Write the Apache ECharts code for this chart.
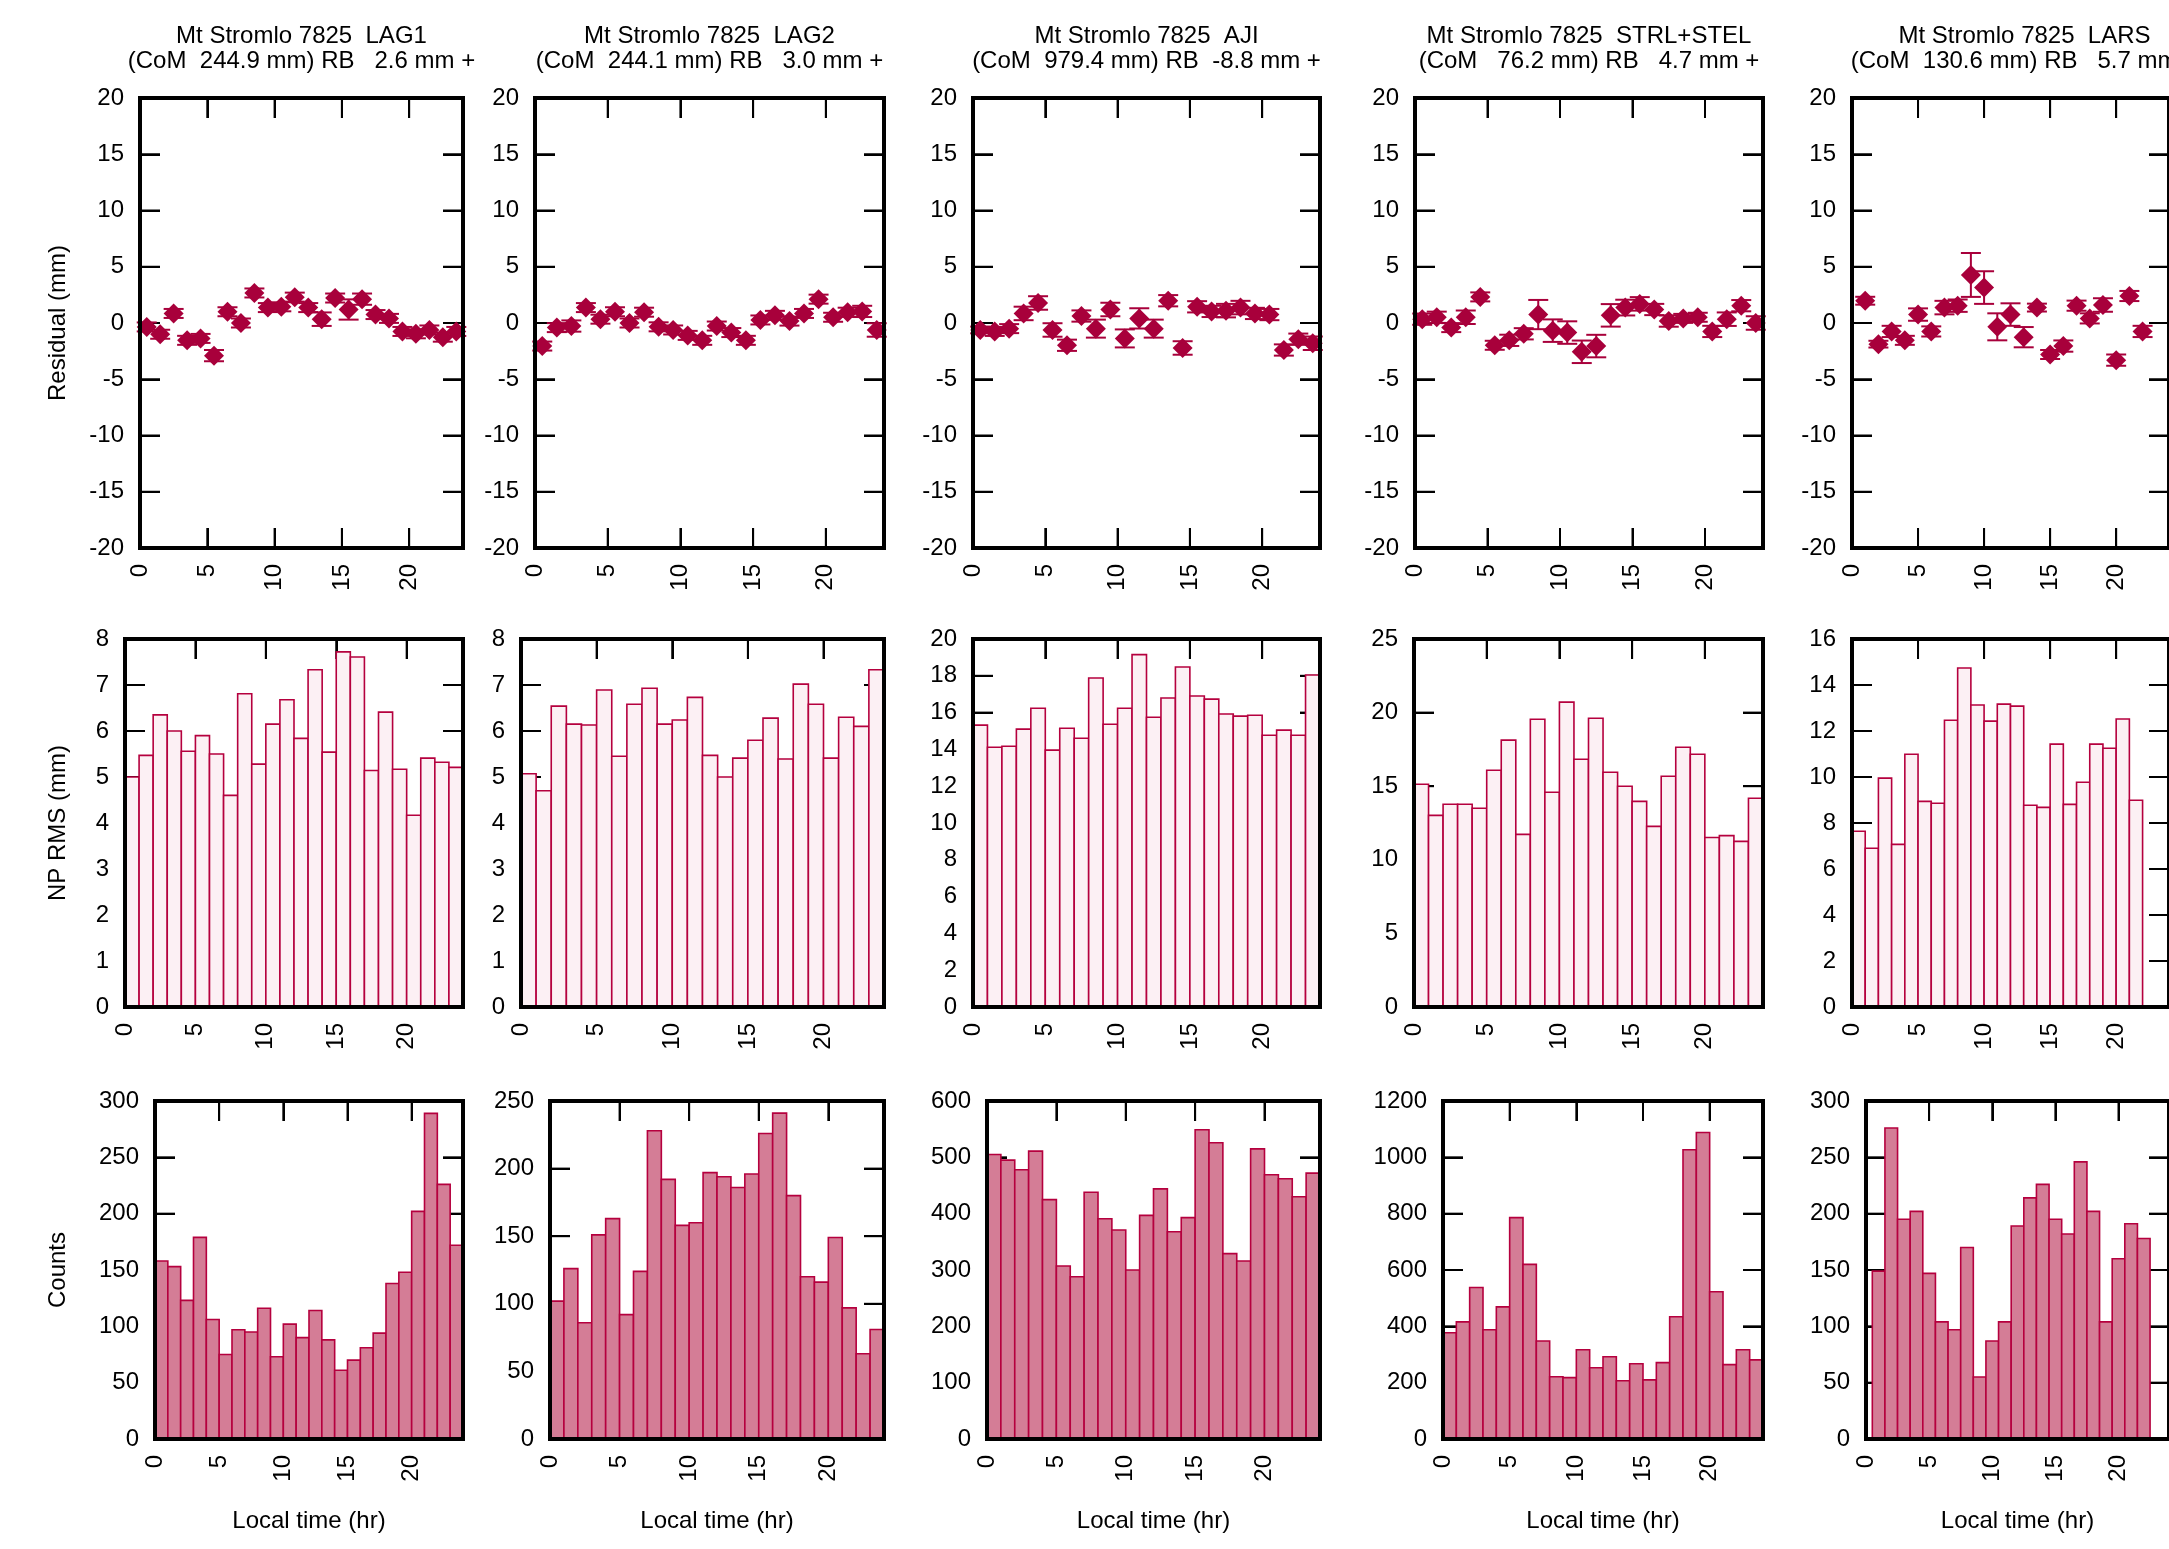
<!DOCTYPE html>
<html>
<head>
<meta charset="utf-8">
<script src="https://cdn.jsdelivr.net/npm/echarts@6/dist/echarts.min.js"></script>
<style>
  html, body { margin: 0; background: #fff; }
  #chart { width: 2169px; height: 1549px; }
</style>
</head>
<body>
<div id="chart"></div>
<script>
// station info shown in the panel titles
const stations = ['LAG1', 'LAG2', 'AJI', 'STRL+STEL', 'LARS'];
const comOffsets = ['244.9', '244.1', '979.4', '76.2', '130.6'];
const rangeBias = ['2.6', '3.0', '-8.8', '4.7', '5.7'];

// local time bins (hr)
const hourBins = [0.5, 1.5, 2.5, 3.5, 4.5, 5.5, 6.5, 7.5, 8.5, 9.5, 10.5, 11.5,
  12.5, 13.5, 14.5, 15.5, 16.5, 17.5, 18.5, 19.5, 20.5, 21.5, 22.5, 23.5];
const hourWhole = [1, 2, 3, 4, 5, 6, 7, 8, 9, 10, 11, 12, 13, 14, 15, 16, 17, 18, 19, 20, 21, 22];
const hourTicks = [5, 10, 15, 20];

// residuals (mm) and their error bars
const resLag1 = [-0.35, -1.0, 0.85, -1.54, -1.37, -2.9, 1.0, 0.0, 2.67, 1.37, 1.44, 2.3, 1.37, 0.34, 2.22, 1.2, 2.12, 0.75, 0.41, -0.75, -0.96, -0.62, -1.26, -0.75];
const errLag1 = [0.4, 0.4, 0.4, 0.4, 0.4, 0.5, 0.4, 0.4, 0.4, 0.4, 0.4, 0.4, 0.4, 0.6, 0.4, 0.9, 0.5, 0.4, 0.4, 0.4, 0.4, 0.4, 0.4, 0.4];
const resLag2 = [-2.05, -0.41, -0.27, 1.37, 0.34, 1.0, 0.0, 0.96, -0.34, -0.62, -1.1, -1.54, -0.27, -0.85, -1.54, 0.27, 0.68, 0.17, 0.85, 2.12, 0.51, 0.96, 1.03, -0.62];
const errLag2 = [0.4, 0.4, 0.5, 0.4, 0.4, 0.4, 0.4, 0.4, 0.4, 0.4, 0.4, 0.4, 0.4, 0.4, 0.4, 0.4, 0.4, 0.4, 0.4, 0.4, 0.4, 0.4, 0.5, 0.6];
const resAji = [-0.62, -0.75, -0.5, 0.85, 1.78, -0.62, -1.98, 0.62, -0.5, 1.2, -1.37, 0.41, -0.5, 1.98, -2.22, 1.44, 1.03, 1.1, 1.37, 0.85, 0.75, -2.4, -1.44, -1.8];
const errAji = [0.3, 0.4, 0.4, 0.6, 0.6, 0.6, 0.5, 0.5, 0.8, 0.6, 0.8, 0.9, 0.8, 0.5, 0.6, 0.5, 0.5, 0.6, 0.6, 0.5, 0.5, 0.5, 0.5, 0.6];
const resStrl = [0.34, 0.51, -0.41, 0.51, 2.32, -1.98, -1.54, -0.96, 0.75, -0.68, -0.85, -2.56, -2.05, 0.68, 1.37, 1.7, 1.2, 0.17, 0.41, 0.51, -0.75, 0.34, 1.54, 0.0];
const errStrl = [0.5, 0.5, 0.4, 0.6, 0.4, 0.4, 0.5, 0.5, 1.3, 1.0, 1.0, 1.0, 1.0, 1.0, 0.7, 0.6, 0.5, 0.5, 0.4, 0.4, 0.5, 0.6, 0.5, 0.6];
const resLars = [1.98, -1.88, -0.75, -1.54, 0.75, -0.75, 1.37, 1.54, 4.27, 3.15, -0.34, 0.75, -1.26, 1.37, -2.8, -2.05, 1.54, 0.41, 1.6, -3.3, 2.4, -0.75];
const errLars = [0.35, 0.3, 0.5, 0.4, 0.55, 0.45, 0.6, 0.55, 1.95, 1.45, 1.2, 1.0, 0.9, 0.35, 0.4, 0.5, 0.45, 0.45, 0.6, 0.5, 0.45, 0.5];

// normal point RMS (mm)
const rmsLag1 = [5.0, 5.47, 6.35, 6.0, 5.56, 5.9, 5.5, 4.6, 6.81, 5.28, 6.15, 6.68, 5.84, 7.33, 5.54, 7.72, 7.61, 5.14, 6.41, 5.17, 4.17, 5.41, 5.32, 5.21];
const rmsLag2 = [5.07, 4.7, 6.54, 6.15, 6.13, 6.89, 5.45, 6.58, 6.93, 6.15, 6.24, 6.73, 5.47, 5.0, 5.41, 5.8, 6.28, 5.39, 7.02, 6.58, 5.41, 6.3, 6.1, 7.33];
const rmsAji = [15.32, 14.12, 14.17, 15.1, 16.24, 13.96, 15.15, 14.61, 17.88, 15.37, 16.24, 19.15, 15.75, 16.79, 18.48, 16.9, 16.73, 15.92, 15.81, 15.86, 14.77, 15.05, 14.77, 18.04];
const rmsStrl = [15.13, 13.02, 13.77, 13.77, 13.5, 16.08, 18.13, 11.73, 19.55, 14.59, 20.71, 16.83, 19.62, 15.95, 15.0, 13.97, 12.27, 15.68, 17.65, 17.17, 11.52, 11.64, 11.25, 14.18];
const rmsLars = [7.64, 6.9, 9.95, 7.07, 10.99, 8.94, 8.86, 12.47, 14.74, 13.13, 12.43, 13.17, 13.08, 8.77, 8.68, 11.43, 8.81, 9.77, 11.43, 11.25, 12.52, 8.99];

// normal point counts
const cntLag1 = [158, 153, 123, 179, 106, 75, 97, 95, 116, 73, 102, 90, 114, 88, 61, 70, 81, 94, 138, 148, 202, 289, 226, 172];
const cntLag2 = [102, 126, 86, 151, 163, 92, 124, 228, 192, 158, 160, 197, 194, 186, 196, 226, 241, 180, 120, 116, 149, 97, 63, 81];
const cntAji = [505, 495, 478, 511, 425, 307, 288, 438, 391, 371, 300, 397, 444, 368, 393, 549, 526, 329, 316, 515, 469, 462, 430, 472];
const cntStrl = [377, 416, 538, 388, 469, 786, 620, 348, 221, 218, 317, 253, 292, 207, 267, 210, 271, 434, 1027, 1088, 523, 264, 317, 281];
const cntLars = [149, 276, 195, 202, 147, 104, 97, 170, 55, 87, 104, 189, 214, 226, 195, 182, 246, 202, 104, 160, 191, 178];

// y axis ranges
const resRange = [-20, 20, 5];
const rmsMax = [8, 8, 20, 25, 16];
const rmsStep = [1, 1, 2, 5, 2];
const cntMax = [300, 250, 600, 1200, 300];
const cntStep = [50, 50, 100, 200, 50];

const font = 'Liberation Sans, Arial, sans-serif';
const markColor = '#a8003b';
const edgeColor = '#b5003e';
const lightFill = '#fcf0f4';
const midFill = '#d47d96';

// panel boxes (px)
const colRight = [463, 884, 1320, 1763, 2197];
const leftTop = [140, 535, 973, 1415, 1852];
const leftMid = [125, 521, 973, 1414, 1852];
const leftBot = [155, 550, 987, 1443, 1866];

const grids = [], xAxes = [], yAxes = [], series = [], titles = [];

// fresh option pieces for each axis
function tick() {
    return { show: true, inside: true, length: 20, lineStyle: { color: '#000', width: 2 } }
}
function line() {
    return { show: false, onZero: false }
}
function label(extra) {
    return Object.assign({ color: '#000', fontSize: 24, fontFamily: font, margin: 16, formatter: v => String(v) }, extra || {})
}
function nameStyle() {
    return { color: '#000', fontSize: 24, fontFamily: font }
}

const tickStyle = { stroke: '#000', lineWidth: 2 }

// inward x ticks on top and bottom of the frame: [hour, yMin, yMax]
function xTickItem(params, api) {
    const t = api.coord([api.value(0), api.value(2)])
    const b = api.coord([api.value(0), api.value(1)])
    return {
        type: 'group',
        children: [
            { type: 'line', shape: { x1: t[0], y1: t[1], x2: t[0], y2: t[1] + 20 }, style: tickStyle },
            { type: 'line', shape: { x1: b[0], y1: b[1], x2: b[0], y2: b[1] - 20 }, style: tickStyle }
        ]
    }
}

// inward y ticks on left and right of the frame: [0, value, 24]
function yTickItem(params, api) {
    const l = api.coord([api.value(0), api.value(1)])
    const r = api.coord([api.value(2), api.value(1)])
    return {
        type: 'group',
        children: [
            { type: 'line', shape: { x1: l[0], y1: l[1], x2: l[0] + 20, y2: l[1] }, style: tickStyle },
            { type: 'line', shape: { x1: r[0], y1: r[1], x2: r[0] - 20, y2: r[1] }, style: tickStyle }
        ]
    }
}

function addPanel(left, right, top, bottom, yMin, yMax, yStep, yName, yGap, xName) {
    const g = grids.length
    grids.push({
        left: left, top: top, width: right - left, height: bottom - top,
        show: true, z: 10, borderWidth: 4, borderColor: '#000', backgroundColor: 'transparent'
    })
    xAxes.push({
        type: 'value', gridIndex: g, position: 'bottom', min: 0, max: 24, interval: 5,
        axisLine: line(), axisTick: tick(), splitLine: { show: false },
        axisLabel: label({ rotate: 90, showMaxLabel: false }),
        name: xName || '', nameLocation: 'middle', nameGap: 70, nameTextStyle: nameStyle()
    })
    xAxes.push({
        type: 'value', gridIndex: g, position: 'top', min: 0, max: 24, interval: 5,
        axisLine: line(), axisTick: tick(), splitLine: { show: false }, axisLabel: { show: false }
    })
    yAxes.push({
        type: 'value', gridIndex: g, position: 'left', min: yMin, max: yMax, interval: yStep,
        axisLine: line(), axisTick: tick(), splitLine: { show: false }, axisLabel: label(),
        name: yName || '', nameLocation: 'middle', nameGap: yGap || 0, nameTextStyle: nameStyle()
    })
    yAxes.push({
        type: 'value', gridIndex: g, position: 'right', min: yMin, max: yMax, interval: yStep,
        axisLine: line(), axisTick: tick(), splitLine: { show: false }, axisLabel: { show: false }
    })
    const yTicks = []
    for (let v = yMin + yStep; v < yMax; v += yStep) yTicks.push(v)
    series.push({
        type: 'custom', xAxisIndex: 2 * g, yAxisIndex: 2 * g, renderItem: xTickItem, silent: true, z: 1,
        data: hourTicks.map(h => [h, yMin, yMax])
    })
    series.push({
        type: 'custom', xAxisIndex: 2 * g, yAxisIndex: 2 * g, renderItem: yTickItem, silent: true, z: 1,
        data: yTicks.map(v => [0, v, 24])
    })
    return g
}

// histogram bar one hour wide
function histItem(fill) {
    return function (params, api) {
        const x = api.value(0)
        const p0 = api.coord([x - 0.5, api.value(1)])
        const p1 = api.coord([x + 0.5, 0])
        return {
            type: 'rect',
            shape: { x: p0[0], y: p0[1], width: p1[0] - p0[0], height: p1[1] - p0[1] },
            style: { fill: fill, stroke: edgeColor, lineWidth: 1.6 }
        }
    }
}

// vertical error bar with caps
function errItem(params, api) {
    const x = api.value(0), y = api.value(1), e = api.value(2)
    const hi = api.coord([x, y + e])
    const lo = api.coord([x, y - e])
    const w = 10
    const st = { stroke: markColor, lineWidth: 2 }
    return {
        type: 'group',
        children: [
            { type: 'line', shape: { x1: hi[0], y1: hi[1], x2: lo[0], y2: lo[1] }, style: st },
            { type: 'line', shape: { x1: hi[0] - w, y1: hi[1], x2: hi[0] + w, y2: hi[1] }, style: st },
            { type: 'line', shape: { x1: lo[0] - w, y1: lo[1], x2: lo[0] + w, y2: lo[1] }, style: st }
        ]
    }
}

const resList = [resLag1, resLag2, resAji, resStrl, resLars]
const errList = [errLag1, errLag2, errAji, errStrl, errLars]
const rmsList = [rmsLag1, rmsLag2, rmsAji, rmsStrl, rmsLars]
const cntList = [cntLag1, cntLag2, cntAji, cntStrl, cntLars]
const resHours = [hourBins, hourBins, hourBins, hourBins, hourWhole]
const rmsHours = [hourBins, hourBins, hourBins, hourBins, hourBins]
const cntHours = [hourBins, hourBins, hourBins, hourBins, hourWhole]

function pad(s, n) {
    while (s.length < n) s = ' ' + s
    return s
}

for (let c = 0; c < 5; c++) {
    const first = c === 0
    titles.push({
        text: 'Mt Stromlo 7825  ' + stations[c] + '\n(CoM ' + pad(comOffsets[c], 6) + ' mm) RB ' + pad(rangeBias[c], 5) + ' mm +',
        left: (leftTop[c] + colRight[c]) / 2, top: 24, textAlign: 'center', padding: 0,
        textStyle: { color: '#000', fontSize: 24, fontWeight: 'normal', fontFamily: font, lineHeight: 25 }
    })

    // residuals
    let g = addPanel(leftTop[c], colRight[c], 98, 548, resRange[0], resRange[1], resRange[2],
        first ? 'Residual (mm)' : '', leftTop[c] - 70)
    const resData = resHours[c].map((h, i) => [h, resList[c][i], errList[c][i]])
    series.push({
        type: 'custom', xAxisIndex: 2 * g, yAxisIndex: 2 * g, renderItem: errItem, data: resData, z: 2
    })
    series.push({
        type: 'scatter', xAxisIndex: 2 * g, yAxisIndex: 2 * g, symbol: 'diamond', symbolSize: 20,
        itemStyle: { color: markColor, opacity: 1 }, data: resData.map(d => [d[0], d[1]]), z: 3
    })

    // NP RMS
    g = addPanel(leftMid[c], colRight[c], 639, 1007, 0, rmsMax[c], rmsStep[c],
        first ? 'NP RMS (mm)' : '', leftMid[c] - 70)
    series.push({
        type: 'custom', xAxisIndex: 2 * g, yAxisIndex: 2 * g, renderItem: histItem(lightFill),
        data: rmsList[c].map((v, i) => [rmsHours[c][i], v]), z: 2
    })

    // counts
    g = addPanel(leftBot[c], colRight[c], 1101, 1439, 0, cntMax[c], cntStep[c],
        first ? 'Counts' : '', leftBot[c] - 70, 'Local time (hr)')
    series.push({
        type: 'custom', xAxisIndex: 2 * g, yAxisIndex: 2 * g, renderItem: histItem(midFill),
        data: cntList[c].map((v, i) => [cntHours[c][i], v]), z: 2
    })
}

const chart = echarts.init(document.getElementById('chart'), null, { renderer: 'canvas' })
chart.setOption({
    animation: false,
    title: titles,
    grid: grids,
    xAxis: xAxes,
    yAxis: yAxes,
    series: series
})
</script>
</body>
</html>
